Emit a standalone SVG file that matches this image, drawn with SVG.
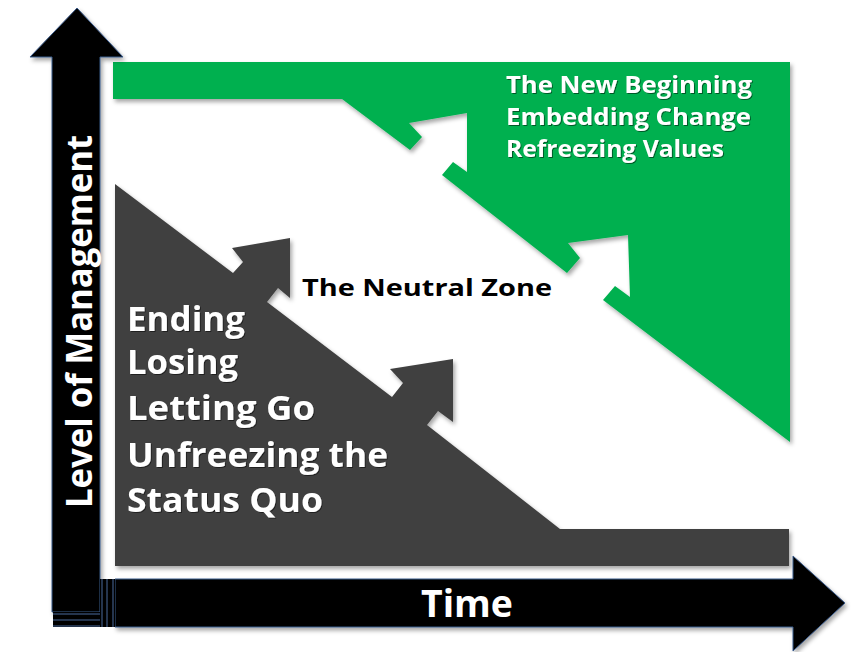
<svg xmlns="http://www.w3.org/2000/svg" width="859" height="652" viewBox="0 0 859 652">
  <style>
    .lbl { font-family: "Open Sans", "Liberation Sans", sans-serif; font-weight: 700; }
    .white { fill: #ffffff; }
    .black { fill: #000000; }
    .axis { fill: #000000; stroke: #3b5a8a; stroke-width: 1; }
    .tick { stroke: #4a6a9c; stroke-width: 1; fill: none; }
  </style>
  <defs>
    <filter id="shadow" x="-10%" y="-10%" width="125%" height="125%">
      <feDropShadow dx="2" dy="3" stdDeviation="2" flood-color="#000000" flood-opacity="0.35"/>
    </filter>
    <filter id="tshadow" x="-5%" y="-20%" width="110%" height="150%">
      <feDropShadow dx="1" dy="1" stdDeviation="0.6" flood-color="#000000" flood-opacity="0.5"/>
    </filter>
  </defs>
  <rect x="0" y="0" width="859" height="652" fill="#ffffff"/>

  <g id="zone-new-beginning">
    <polygon filter="url(#shadow)" fill="#00b050" points="113,62 790,62 790,442 603,300 615,286 630,297 628,235 568,243 580,258 567,273 442,175 453,162 467,172 467,113 409,123 422,137 410,150 342,99 113,99"/>
    <g class="lbl white" font-size="24" filter="url(#tshadow)">
      <text x="506" y="93" textLength="246" lengthAdjust="spacingAndGlyphs">The New Beginning</text>
      <text x="506" y="125" textLength="245" lengthAdjust="spacingAndGlyphs">Embedding Change</text>
      <text x="506" y="157" textLength="218" lengthAdjust="spacingAndGlyphs">Refreezing Values</text>
    </g>
  </g>

  <g id="zone-ending">
    <polygon filter="url(#shadow)" fill="#404040" points="115,184 233,273 243,262 232,248 290,238 290,298 278,288 267,302 392,397 403,383 390,369 453,359 453,422 438,411 427,425 560,529 789,529 789,566 115,566"/>
    <g class="lbl white" font-size="34" filter="url(#tshadow)">
      <text x="127" y="331" textLength="118" lengthAdjust="spacingAndGlyphs">Ending</text>
      <text x="127" y="374" textLength="111" lengthAdjust="spacingAndGlyphs">Losing</text>
      <text x="127" y="420" textLength="188" lengthAdjust="spacingAndGlyphs">Letting Go</text>
      <text x="127" y="467" textLength="261" lengthAdjust="spacingAndGlyphs">Unfreezing the</text>
      <text x="127" y="512" textLength="196" lengthAdjust="spacingAndGlyphs">Status Quo</text>
    </g>
  </g>

  <g id="zone-neutral">
    <text class="lbl black" x="302" y="296" font-size="24" textLength="250" lengthAdjust="spacingAndGlyphs">The Neutral Zone</text>
  </g>

  <g id="axis-y">
    <polygon class="axis" filter="url(#shadow)" points="52,612 52,57 30,57 77,8 123,57 100,57 100,612"/>
    <rect x="53" y="612" width="47" height="15" fill="#000000"/>
    <line class="tick" x1="53" y1="614" x2="100" y2="614"/>
    <line class="tick" x1="53" y1="620" x2="100" y2="620"/>
    <line class="tick" x1="53" y1="626" x2="100" y2="626"/>
    <text class="lbl white" x="92" y="508" font-size="36" transform="rotate(-90 92 508)" textLength="373" lengthAdjust="spacingAndGlyphs">Level of Management</text>
  </g>

  <g id="axis-x">
    <polygon class="axis" filter="url(#shadow)" points="115,579 793,579 793,556 845,603 793,651 793,627 115,627"/>
    <rect x="100" y="579" width="15" height="48" fill="#000000"/>
    <line class="tick" x1="102" y1="579" x2="102" y2="627"/>
    <line class="tick" x1="107" y1="579" x2="107" y2="627"/>
    <line class="tick" x1="113" y1="579" x2="113" y2="627"/>
    <text class="lbl white" x="421" y="617" font-size="37" textLength="92" lengthAdjust="spacingAndGlyphs">Time</text>
  </g>
</svg>
